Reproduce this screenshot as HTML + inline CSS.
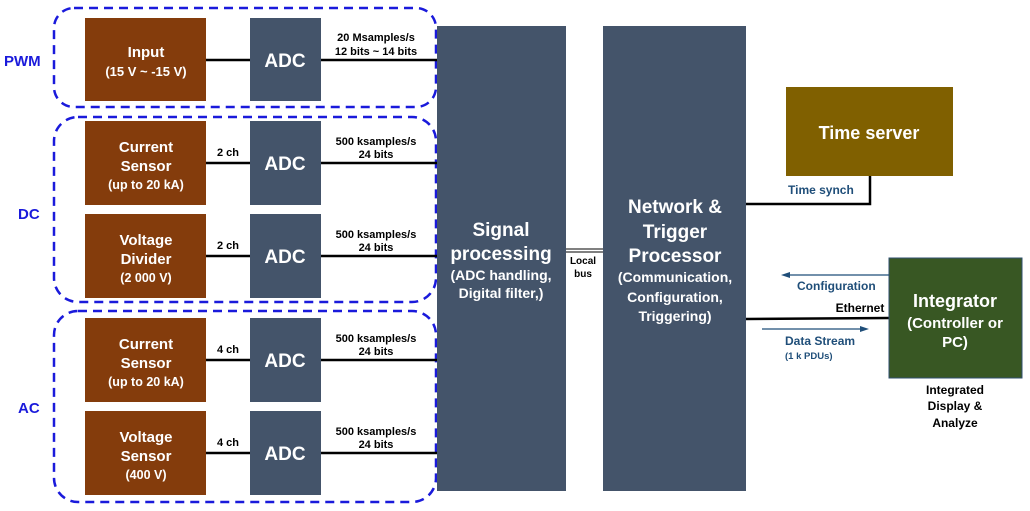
<!DOCTYPE html>
<html><head><style>
html,body{margin:0;padding:0;background:#fff;}
svg{display:block;}
text{font-family:"Liberation Sans","NanumGothic",sans-serif;font-weight:bold;}
</style></head><body>
<svg width="1030" height="511" viewBox="0 0 1030 511" xmlns="http://www.w3.org/2000/svg">
<g fill="none" stroke="#1a1adb" stroke-width="2.5" stroke-dasharray="9,6">
<rect x="54" y="8" width="382" height="99" rx="20"/>
<rect x="54" y="117" width="382" height="185" rx="24"/>
<rect x="54" y="311" width="382" height="191" rx="24"/>
</g>
<g fill="#1a1adb" font-size="15">
<text x="4" y="66">PWM</text>
<text x="18" y="219">DC</text>
<text x="18" y="413">AC</text>
</g>
<g stroke="#000" stroke-width="2.5">
<line x1="206" y1="60" x2="250" y2="60"/><line x1="321" y1="60" x2="437" y2="60"/>
<line x1="206" y1="163" x2="250" y2="163"/><line x1="321" y1="163" x2="437" y2="163"/>
<line x1="206" y1="256" x2="250" y2="256"/><line x1="321" y1="256" x2="437" y2="256"/>
<line x1="206" y1="360" x2="250" y2="360"/><line x1="321" y1="360" x2="437" y2="360"/>
<line x1="206" y1="453" x2="250" y2="453"/><line x1="321" y1="453" x2="437" y2="453"/>
<polyline points="746,204 870,204 870,176" fill="none"/>
<line x1="746" y1="319" x2="889" y2="318"/>
</g>
<g stroke="#000" stroke-width="1"><line x1="566" y1="249" x2="603" y2="249"/><line x1="566" y1="252" x2="603" y2="252"/></g>
<g fill="#843C0C">
<rect x="85" y="18" width="121" height="83"/><rect x="85" y="121" width="121" height="84"/>
<rect x="85" y="214" width="121" height="84"/><rect x="85" y="318" width="121" height="84"/>
<rect x="85" y="411" width="121" height="84"/>
</g>
<g fill="#44546A">
<rect x="250" y="18" width="71" height="83"/><rect x="250" y="121" width="71" height="84"/>
<rect x="250" y="214" width="71" height="84"/><rect x="250" y="318" width="71" height="84"/>
<rect x="250" y="411" width="71" height="84"/>
<rect x="437" y="26" width="129" height="465"/><rect x="603" y="26" width="143" height="465"/>
</g>
<rect x="786" y="87" width="167" height="89" fill="#806000"/>
<rect x="889" y="258" width="133" height="120" fill="#385723" stroke="#2f4f6f" stroke-width="1"/>
<g fill="#fff" text-anchor="middle">
<text x="146" y="57" font-size="15">Input</text><text x="146" y="76" font-size="13">(15 V ~ -15 V)</text>
<text x="146" y="152" font-size="15">Current</text><text x="146" y="171" font-size="15">Sensor</text><text x="146" y="189" font-size="12.5">(up to 20 kA)</text>
<text x="146" y="245" font-size="15">Voltage</text><text x="146" y="264" font-size="15">Divider</text><text x="146" y="282" font-size="12.5">(2 000 V)</text>
<text x="146" y="349" font-size="15">Current</text><text x="146" y="368" font-size="15">Sensor</text><text x="146" y="386" font-size="12.5">(up to 20 kA)</text>
<text x="146" y="442" font-size="15">Voltage</text><text x="146" y="461" font-size="15">Sensor</text><text x="146" y="479" font-size="12.5">(400 V)</text>
<g font-size="19"><text x="285" y="67">ADC</text><text x="285" y="170">ADC</text><text x="285" y="263">ADC</text><text x="285" y="367">ADC</text><text x="285" y="460">ADC</text></g>
<text x="501" y="236" font-size="19">Signal</text><text x="501" y="260" font-size="19">processing</text>
<text x="501" y="280" font-size="14">(ADC handling,</text><text x="501" y="298" font-size="14">Digital filter,)</text>
<text x="675" y="213" font-size="19">Network &amp;</text><text x="675" y="238" font-size="19">Trigger</text><text x="675" y="262" font-size="19">Processor</text>
<text x="675" y="282" font-size="14">(Communication,</text><text x="675" y="302" font-size="14">Configuration,</text><text x="675" y="321" font-size="14">Triggering)</text>
<text x="869" y="139" font-size="18">Time server</text>
<text x="955" y="307" font-size="18">Integrator</text><text x="955" y="328" font-size="15">(Controller or</text><text x="955" y="347" font-size="15">PC)</text>
</g>
<g fill="#000" text-anchor="middle" font-size="11">
<text x="376" y="41">20 Msamples/s</text><text x="376" y="55">12 bits ~ 14 bits</text>
<text x="376" y="145">500 ksamples/s</text><text x="376" y="158">24 bits</text>
<text x="376" y="238">500 ksamples/s</text><text x="376" y="251">24 bits</text>
<text x="376" y="342">500 ksamples/s</text><text x="376" y="355">24 bits</text>
<text x="376" y="435">500 ksamples/s</text><text x="376" y="448">24 bits</text>
<text x="228" y="156">2 ch</text><text x="228" y="249">2 ch</text><text x="228" y="353">4 ch</text><text x="228" y="446">4 ch</text>
<text x="583" y="264" font-size="10">Local</text><text x="583" y="277" font-size="10">bus</text>
<text x="860" y="312" font-size="12">Ethernet</text>
<text x="955" y="394" font-size="12">Integrated</text><text x="955" y="410" font-size="12">Display &amp;</text><text x="955" y="427" font-size="12">Analyze</text>
</g>
<g fill="#1f4e79" font-size="12">
<text x="788" y="194">Time synch</text>
<text x="797" y="290">Configuration</text>
<text x="785" y="345">Data Stream</text>
<text x="785" y="359" font-size="9.5">(1 k PDUs)</text>
</g>
<g stroke="#1f4e79" stroke-width="1.2"><line x1="889" y1="275" x2="788" y2="275"/><line x1="762" y1="329" x2="862" y2="329"/></g>
<polygon points="781,275 790,272 790,278" fill="#1f4e79"/>
<polygon points="869,329 860,326 860,332" fill="#1f4e79"/>
</svg>
</body></html>
